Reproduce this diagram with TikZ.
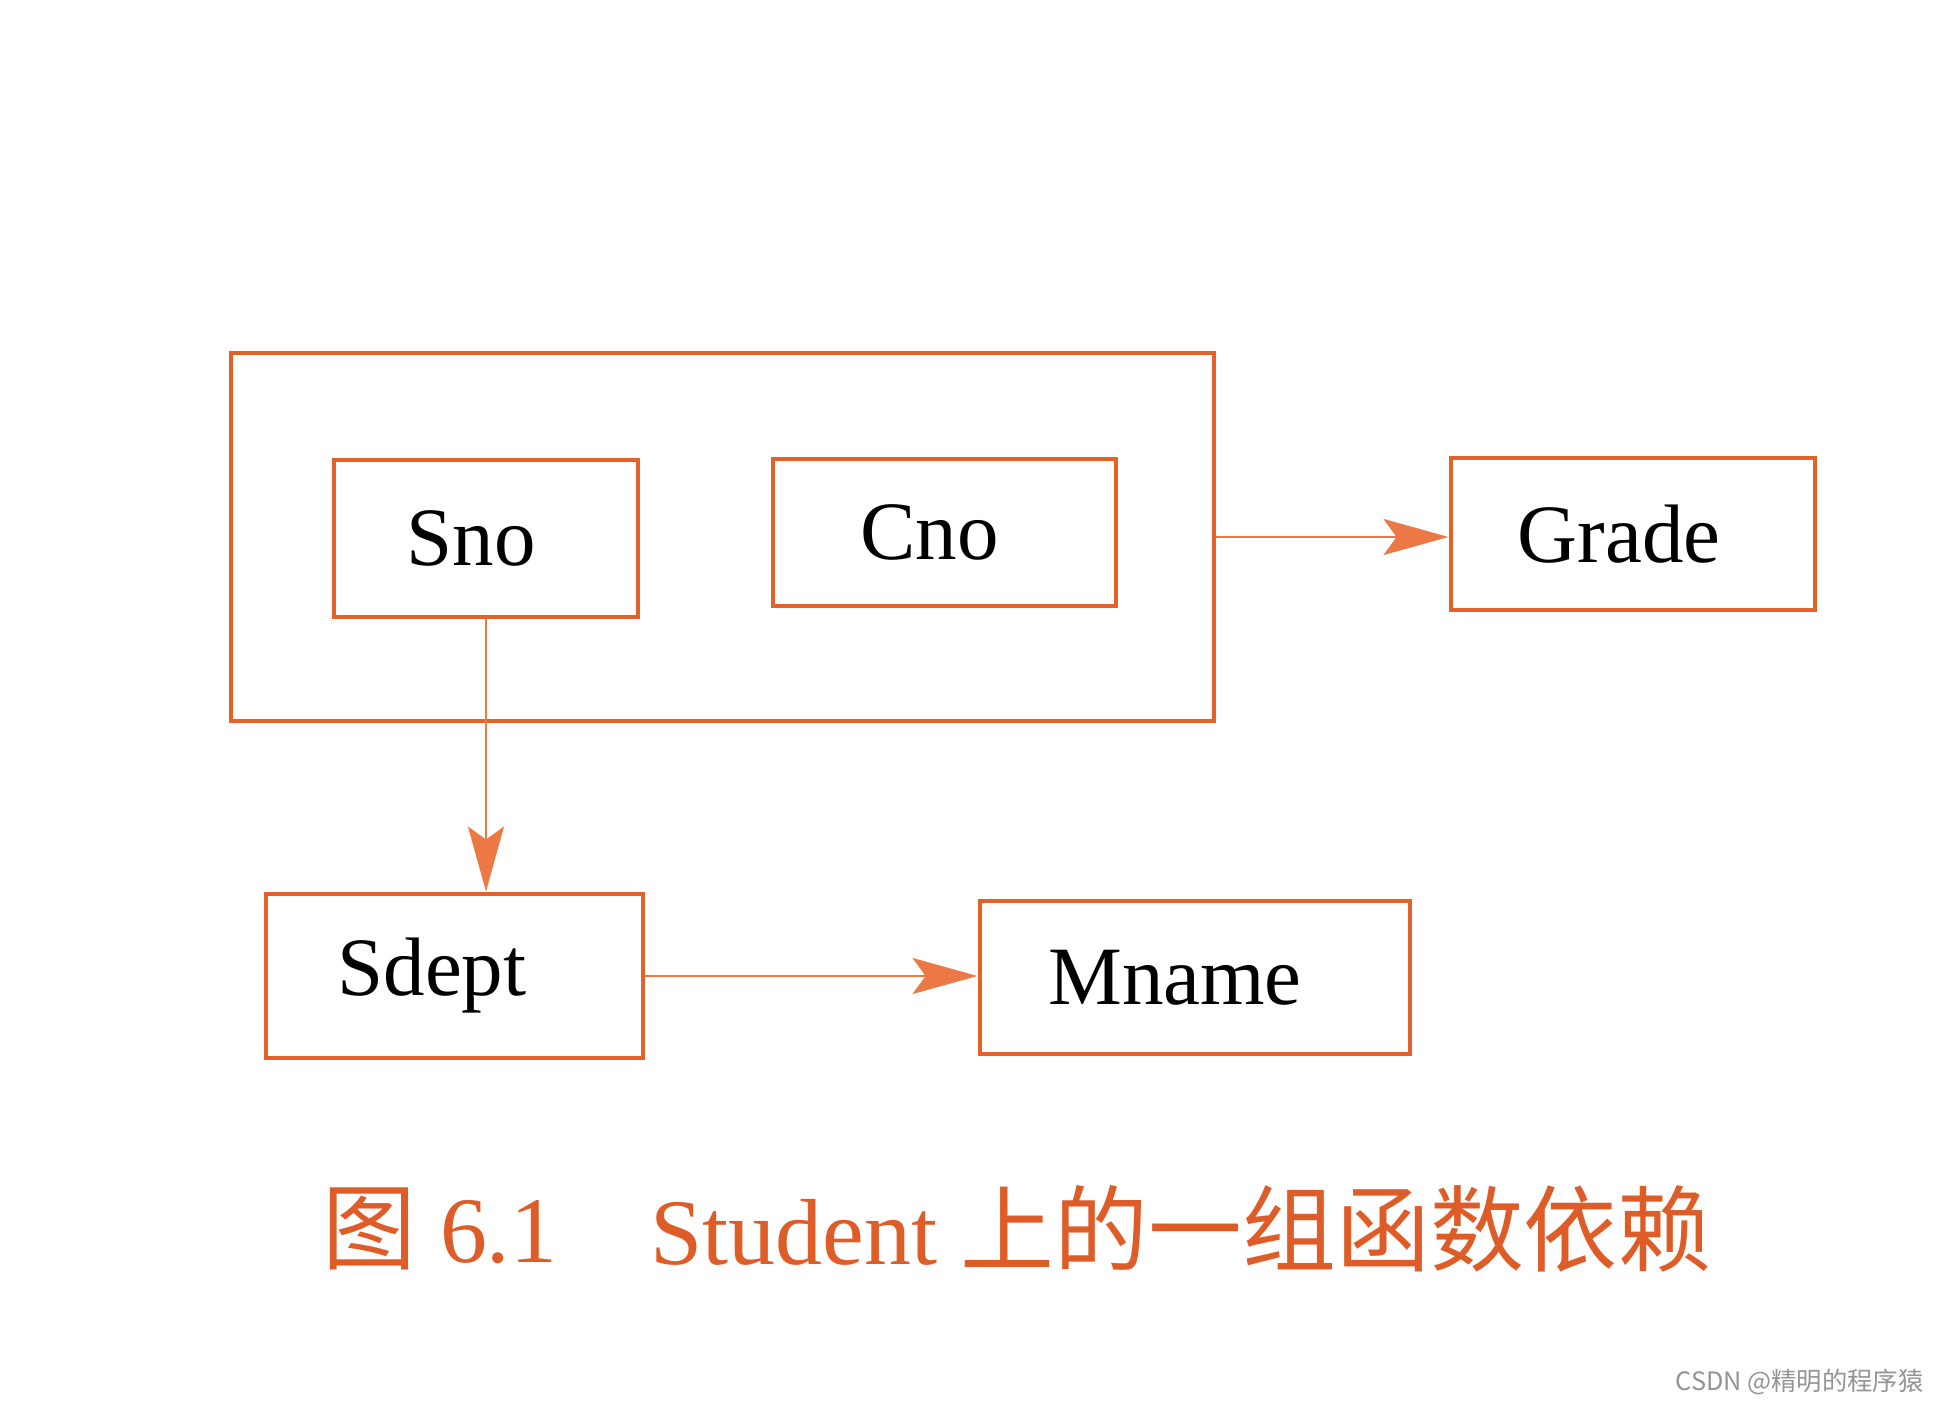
\documentclass[tikz,border=0pt]{standalone}
\usepackage{fontspec}
\setmainfont{Liberation Serif}
\newfontfamily\cjk{Noto Sans CJK SC}
\usetikzlibrary{arrows.meta,calc}
\definecolor{boxorange}{RGB}{228,98,42}
\definecolor{arrorange}{RGB}{236,120,70}
\definecolor{capred}{RGB}{222,92,40}
\newcommand{\lft}[2]{#1\hspace*{#2}}

\begin{document}
\begin{tikzpicture}[
    attr/.style={draw=boxorange,line width=1.4pt,inner sep=0pt,
      font=\fontsize{23.6}{28}\selectfont},
    dep/.style={draw=arrorange,line width=0.7pt,
      -{Stealth[length=6.5mm,width=3.6mm,inset=1.3mm,fill=arrorange]}},
    caption/.style={text=capred,font=\fontsize{26.7}{32}\selectfont,inner sep=0pt,anchor=west}]
    \useasboundingbox (0,0) rectangle (19.40,-14.04);
    % the key (Sno, Cno)
    \node[attr,minimum width=9.83cm,minimum height=3.68cm] (key) at (7.225,-5.37){};
    \node[attr,minimum width=3.04cm,minimum height=1.57cm] (sno) at (4.86,-5.385){\lft{Sno}{0.3cm}};
    \node[attr,minimum width=3.43cm,minimum height=1.47cm] (cno) at (9.445,-5.325){\lft{Cno}{0.3cm}};
    \node[attr,minimum width=3.64cm,minimum height=1.52cm] (grade) at (16.33,-5.34){\lft{Grade}{0.28cm}};
    \node[attr,minimum width=3.77cm,minimum height=1.64cm] (sdept) at (4.545,-9.76){\lft{Sdept}{0.45cm}};
    \node[attr,minimum width=4.30cm,minimum height=1.53cm] (mname) at (11.95,-9.775){\lft{Mname}{0.4cm}};

    \draw[dep] (key.east)--(key.east -| grade.west);
    \draw[dep] (sno.south)--(sno.south |- sdept.north);
    \draw[dep] (sdept.east)--(sdept.east -| mname.west);

    % caption
    \node[caption] (capnum) at (3.22,-12.29){{\cjk 图}~6.1};
    \node[caption] (captext) at (6.50,-12.29){Student {\cjk 上的一组函数依赖}};
    \node[anchor=east,text=black!42,inner sep=0pt,font=\cjk\fontsize{7.2}{8}\selectfont] (mark) at (19.24,-13.82){CSDN @精明的程序猿};
\end{tikzpicture}
\end{document}
